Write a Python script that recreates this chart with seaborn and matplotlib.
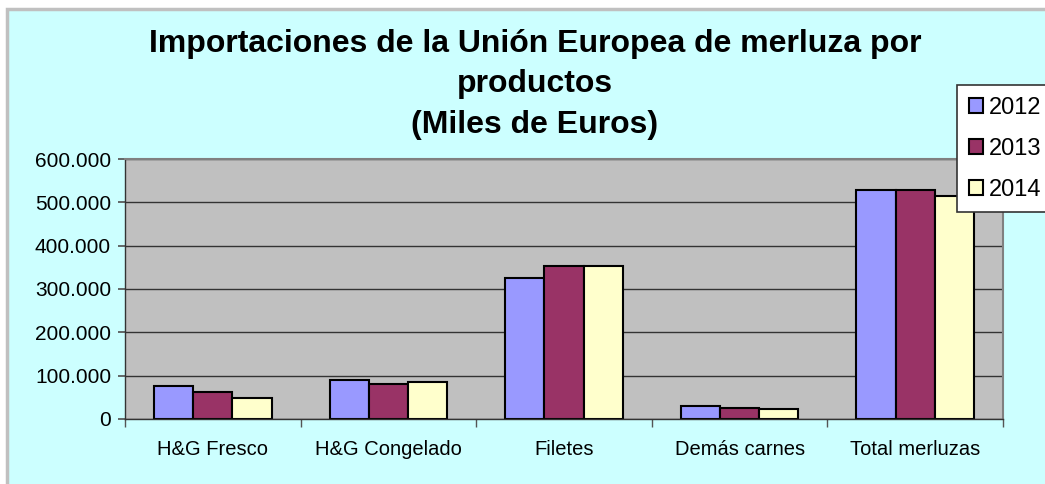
import pandas as pd
import matplotlib.pyplot as plt
import seaborn as sns
from matplotlib.patches import Rectangle
from matplotlib.ticker import FuncFormatter

# Data (miles de euros)
categories = ["H&G Fresco", "H&G Congelado", "Filetes", "Demás carnes", "Total merluzas"]
years = ["2012", "2013", "2014"]
v2012 = [77000, 91000, 326000, 30000, 529000]
v2013 = [63000, 81500, 354000, 26000, 529000]
v2014 = [49000, 86000, 354000, 22000, 515000]

df = pd.DataFrame({"Producto": categories * 3,
                   "Año": [y for y in years for _ in categories],
                   "Valor": v2012 + v2013 + v2014})

sns.set_theme(style="white")
plt.rcParams["font.family"] = ["Liberation Sans", "DejaVu Sans"]
plt.rcParams["text.color"] = "black"
plt.rcParams["xtick.color"] = "black"
plt.rcParams["ytick.color"] = "black"

palette = ["#9999FF", "#993366", "#FFFFCC"]
W, H = 1045, 484

fig = plt.figure(figsize=(10.45, 4.84), dpi=100, facecolor="white")
# chart area background with light grey border (left/top visible)
fig.patches.append(Rectangle((6.5 / W, -0.05), 1.1, 1 - 8.5 / H + 0.05, transform=fig.transFigure,
                             facecolor="#CCFFFF", edgecolor="#C0C0C0", linewidth=2.5, zorder=-5))

ax = fig.add_axes([125 / W, (H - 419) / H, 878 / W, 260 / H])
ax.set_facecolor("#C0C0C0")

sns.barplot(data=df, x="Producto", y="Valor", hue="Año", palette=palette,
            width=0.67, edgecolor="black", linewidth=1.5, saturation=1, ax=ax)

ax.set_ylim(0, 600000)
ax.set_yticks(range(0, 600001, 100000))
ax.yaxis.set_major_formatter(FuncFormatter(lambda v, p: f"{int(v):,}".replace(",", ".")))
ax.grid(axis="y", color="#333333", linewidth=1)
ax.set_axisbelow(True)
ax.set_xlim(-0.5, 4.5)
ax.set_xlabel("")
ax.set_ylabel("")

# Excel-style ticks between categories
ax.set_xticks([i + 0.5 for i in range(-1, 5)], minor=True)
ax.tick_params(axis="x", which="minor", length=6, direction="out", color="#555555", bottom=True)
ax.tick_params(axis="x", which="major", length=0, labelsize=14.5, pad=15)
ax.tick_params(axis="y", length=5, direction="out", color="#555555", left=True, labelsize=15, pad=5)

for side in ["top", "right"]:
    ax.spines[side].set_color("#808080")
    ax.spines[side].set_linewidth(1.5)
for side in ["left", "bottom"]:
    ax.spines[side].set_color("#333333")
    ax.spines[side].set_linewidth(1)

fig.text(0.512, 1 - 29 / H, "Importaciones de la Unión Europea de merluza por\nproductos\n(Miles de Euros)",
         ha="center", va="top", fontsize=23, fontweight="bold", linespacing=1.45)

leg = ax.legend(loc="upper left", bbox_to_anchor=(957 / W, 1 - 85 / H), bbox_transform=fig.transFigure,
                fontsize=17, frameon=True, fancybox=False, edgecolor="#333333", framealpha=1,
                handlelength=0.6, handleheight=0.6, handletextpad=0.25,
                labelspacing=0.8, borderpad=0.5, borderaxespad=0)
leg.get_frame().set_linewidth(1.2)
leg.set_clip_on(False)

fig.savefig("out.png", dpi=100, facecolor=fig.get_facecolor())
